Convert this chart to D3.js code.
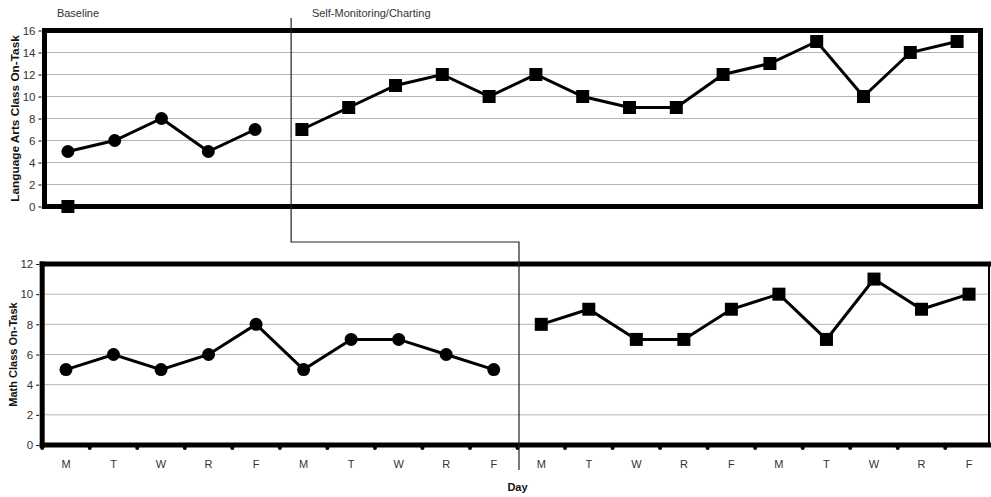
<!DOCTYPE html>
<html>
<head>
<meta charset="utf-8">
<script src="https://cdn.jsdelivr.net/npm/d3@7"></script>
<style>
  html, body { margin: 0; padding: 0; background: #fff; }
  svg { display: block; font-family: "Liberation Sans", Arial, sans-serif; }
</style>
</head>
<body>
<svg id="chart" width="991" height="497"></svg>
<script>
// ---------- data ----------
const dayLabels = ["M","T","W","R","F","M","T","W","R","F","M","T","W","R","F","M","T","W","R","F"];
const laBaseline = [5, 6, 8, 5, 7];                 // days 0-4 (circles)
const laBaselineSquare = [0];                        // day 0 (square)
const laTreatment = [7, 9, 11, 12, 10, 12, 10, 9, 9, 12, 13, 15, 10, 14, 15]; // days 5-19
const mathBaseline = [5, 6, 5, 6, 8, 5, 7, 7, 6, 5]; // days 0-9
const mathTreatment = [8, 9, 7, 7, 9, 10, 7, 11, 9, 10]; // days 10-19
const laTicks = [0, 2, 4, 6, 8, 10, 12, 14, 16];
const mathTicks = [0, 2, 4, 6, 8, 10, 12];
const phaseLabels = ["Baseline", "Self-Monitoring/Charting"];

// ---------- layout ----------
const svg = d3.select("#chart");
const idx = d3.range(dayLabels.length);
const textCol = "#333";

const topP = { left: 44.5, right: 980.5, y0: 206.5, y1: 30.5 };
const botP = { left: 42.2, right: 992.8, frameRight: 989, y0: 445, y1: 264 };

const xTop = d3.scaleBand().domain(idx).range([topP.left, topP.right]);
const xBot = d3.scaleBand().domain(idx).range([botP.left, botP.right]);
const yTop = d3.scaleLinear().domain([0, 16]).range([topP.y0, topP.y1]);
const yBot = d3.scaleLinear().domain([0, 12]).range([botP.y0, botP.y1]);

const cx = (x, i) => x(i) + x.bandwidth() / 2;

function panel(g, x, y, ticks, frameRight, thinRight) {
  // grid
  g.append("g")
    .selectAll("line").data(ticks.slice(1, -1)).join("line")
    .attr("x1", x.range()[0]).attr("x2", frameRight)
    .attr("y1", d => y(d)).attr("y2", d => y(d))
    .attr("stroke", "#b5b5b5").attr("stroke-width", 1);
  // y axis labels
  const ax = g.append("g")
    .attr("transform", `translate(${x.range()[0] - 3},0)`)
    .call(d3.axisLeft(y).tickValues(ticks).tickSize(3).tickPadding(3));
  ax.select(".domain").remove();
  ax.selectAll(".tick line").attr("stroke", "#000").attr("stroke-width", 1);
  ax.selectAll("text").attr("font-size", 11.5).attr("fill", textCol)
    .attr("font-family", "Liberation Sans, Arial, sans-serif");
  // frame
  const L = x.range()[0], R = frameRight, T = y.range()[1], B = y.range()[0];
  const fr = g.append("g").attr("stroke", "#000").attr("fill", "none").attr("stroke-linecap", "square");
  fr.append("line").attr("x1", L).attr("x2", L).attr("y1", T).attr("y2", B).attr("stroke-width", 5);
  fr.append("line").attr("x1", L).attr("x2", R).attr("y1", T).attr("y2", T).attr("stroke-width", 5);
  fr.append("line").attr("x1", L).attr("x2", R).attr("y1", B).attr("y2", B).attr("stroke-width", 5);
  fr.append("line").attr("x1", R).attr("x2", R).attr("y1", T).attr("y2", B)
    .attr("stroke-width", thinRight ? 2 : 5);
}

function series(g, x, y, startIdx, values, shape) {
  const pts = values.map((v, k) => ({ i: startIdx + k, v }));
  if (pts.length > 1) {
    g.append("path").datum(pts)
      .attr("d", d3.line().x(d => cx(x, d.i)).y(d => y(d.v)))
      .attr("fill", "none").attr("stroke", "#000").attr("stroke-width", 3)
      .attr("stroke-linejoin", "miter");
  }
  if (shape === "circle") {
    g.selectAll(null).data(pts).join("circle")
      .attr("cx", d => cx(x, d.i)).attr("cy", d => y(d.v)).attr("r", 6.5).attr("fill", "#000");
  } else {
    const s = 13;
    g.selectAll(null).data(pts).join("rect")
      .attr("x", d => cx(x, d.i) - s / 2).attr("y", d => y(d.v) - s / 2)
      .attr("width", s).attr("height", s).attr("fill", "#000");
  }
}

// ---------- top panel ----------
const gTop = svg.append("g");
panel(gTop, xTop, yTop, laTicks, topP.right, false);
series(gTop, xTop, yTop, 0, laBaseline, "circle");
series(gTop, xTop, yTop, 0, laBaselineSquare, "square");
series(gTop, xTop, yTop, 5, laTreatment, "square");

// ---------- bottom panel ----------
const gBot = svg.append("g");
panel(gBot, xBot, yBot, mathTicks, botP.frameRight, true);
series(gBot, xBot, yBot, 0, mathBaseline, "circle");
series(gBot, xBot, yBot, 10, mathTreatment, "square");

// x axis (bottom)
const xAx = gBot.append("g")
  .attr("transform", `translate(0,${botP.y0})`)
  .call(d3.axisBottom(xBot).tickFormat(i => dayLabels[i]).tickSize(0).tickPadding(15));
xAx.select(".domain").remove();
xAx.selectAll("text").attr("font-size", 11).attr("fill", textCol)
  .attr("font-family", "Liberation Sans, Arial, sans-serif");
// boundary tick dots
gBot.append("g").selectAll("line").data(idx).join("line")
  .attr("x1", i => xBot(i)).attr("x2", i => xBot(i))
  .attr("y1", botP.y0).attr("y2", botP.y0 + 3)
  .attr("stroke", "#000").attr("stroke-width", 4).attr("stroke-linecap", "round");

// axis titles
svg.append("text")
  .attr("transform", `translate(19,${(topP.y0 + topP.y1) / 2}) rotate(-90)`)
  .attr("text-anchor", "middle").attr("font-size", 11.8).attr("font-weight", "bold")
  .attr("fill", "#111").text("Language Arts Class On-Task");
svg.append("text")
  .attr("transform", `translate(17,${yBot(6)}) rotate(-90)`)
  .attr("text-anchor", "middle").attr("font-size", 11).attr("font-weight", "bold")
  .attr("fill", "#111").text("Math Class On-Task");
svg.append("text")
  .attr("x", xBot(10)).attr("y", 491)
  .attr("text-anchor", "middle").attr("font-size", 11).attr("font-weight", "bold")
  .attr("fill", "#111").text("Day");

// phase labels
svg.append("text").attr("x", cx(xTop, 0) - 11).attr("y", 17)
  .attr("font-size", 11).attr("fill", textCol).text(phaseLabels[0]);
svg.append("text").attr("x", cx(xTop, 5) + 10).attr("y", 17)
  .attr("font-size", 11).attr("fill", textCol).text(phaseLabels[1]);

// phase change line (stepped)
const pxTop = cx(xTop, 4) + 0.77 * xTop.step();
const pxBot = xBot(10) + 1.5;
const stepY = 242;
svg.append("path")
  .attr("d", d3.line()([[pxTop, 18], [pxTop, stepY], [pxBot, stepY], [pxBot, 470]]))
  .attr("fill", "none").attr("stroke", "#222").attr("stroke-width", 1.2);
</script>
</body>
</html>
